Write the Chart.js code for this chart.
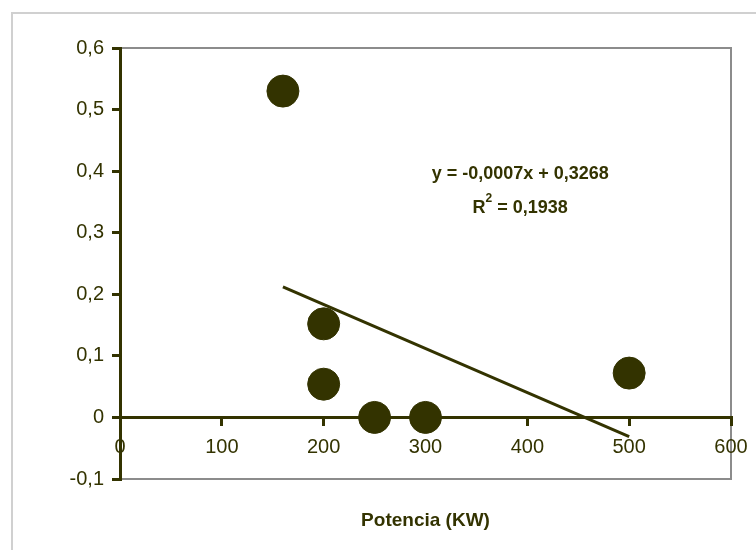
<!DOCTYPE html>
<html>
<head>
<meta charset="utf-8">
<script src="https://cdn.jsdelivr.net/npm/chart.js@4.4.0/dist/chart.umd.min.js"></script>
<style>
  html, body { margin: 0; padding: 0; background: #fff; }
  #wrap { width: 756px; height: 550px; position: relative; }
</style>
</head>
<body>
<div id="wrap"><canvas id="chart" width="756" height="550"></canvas></div>
<script>
// Data
const potencia = [160, 200, 200, 250, 300, 500];
const valores  = [0.53, 0.152, 0.054, 0, 0, 0.072];
const trendX = [160, 500];
const trendY = [0.212, -0.031];
const xTicks = [0, 100, 200, 300, 400, 500, 600];
const yTicks = [-0.1, 0, 0.1, 0.2, 0.3, 0.4, 0.5, 0.6];
const eqLine1 = 'y = -0,0007x + 0,3268';
const eqR2 = '0,1938';
const xTitle = 'Potencia (KW)';

const ink = '#333300';
const sans = "'Liberation Sans', Arial, sans-serif";

function fmt(v) {
  const r = Math.round(v * 10) / 10;
  return String(r).replace('.', ',');
}

// frames, equation, axis title
const decor = {
  id: 'decor',
  beforeDraw(chart) {
    const ctx = chart.ctx, a = chart.chartArea;
    ctx.save();
    ctx.strokeStyle = '#d0d0d0';
    ctx.lineWidth = 2;
    ctx.beginPath();
    ctx.moveTo(12, 550); ctx.lineTo(12, 13); ctx.lineTo(756, 13);
    ctx.stroke();
    ctx.strokeStyle = '#8c8c8c';
    ctx.lineWidth = 2;
    ctx.strokeRect(a.left, a.top, a.right - a.left, a.bottom - a.top);
    ctx.restore();
  },
  afterDraw(chart) {
    const ctx = chart.ctx, a = chart.chartArea;
    const xs = chart.scales.x, ys = chart.scales.y;
    ctx.save();
    ctx.fillStyle = ink;
    ctx.textBaseline = 'middle';
    ctx.textAlign = 'center';
    const cx = xs.getPixelForValue(393);
    ctx.font = 'bold 18px ' + sans;
    ctx.fillText(eqLine1, cx, ys.getPixelForValue(0.396));
    // R² line
    const y2 = ys.getPixelForValue(0.34);
    const rest = ' = ' + eqR2;
    const wR = ctx.measureText('R').width;
    const wRest = ctx.measureText(rest).width;
    ctx.font = 'bold 12px ' + sans;
    const wSup = ctx.measureText('2').width;
    let x0 = cx - (wR + wSup + wRest) / 2;
    ctx.textAlign = 'left';
    ctx.font = 'bold 18px ' + sans;
    ctx.fillText('R', x0, y2);
    ctx.font = 'bold 12px ' + sans;
    ctx.fillText('2', x0 + wR, y2 - 9);
    ctx.font = 'bold 18px ' + sans;
    ctx.fillText(rest, x0 + wR + wSup, y2);
    // x title
    ctx.textAlign = 'center';
    ctx.font = 'bold 19px ' + sans;
    ctx.fillText(xTitle, (a.left + a.right) / 2, 521);
    ctx.restore();
  }
};

new Chart(document.getElementById('chart'), {
  type: 'scatter',
  data: {
    datasets: [
      {
        label: 'Datos',
        data: potencia.map((x, i) => ({ x, y: valores[i] })),
        backgroundColor: ink,
        borderColor: ink,
        pointRadius: 16,
        pointHoverRadius: 16
      },
      {
        type: 'line',
        label: 'Tendencia',
        data: trendX.map((x, i) => ({ x, y: trendY[i] })),
        borderColor: ink,
        borderWidth: 3,
        pointRadius: 0,
        fill: false
      }
    ]
  },
  options: {
    responsive: false,
    animation: false,
    layout: { padding: { left: 0, right: 25, top: 48, bottom: 71 } },
    plugins: { legend: { display: false }, tooltip: { enabled: false } },
    scales: {
      x: {
        type: 'linear',
        position: { y: 0 },
        min: 0, max: 600,
        afterBuildTicks: s => { s.ticks = xTicks.map(v => ({ value: v })); },
        afterFit: s => { s.paddingLeft = 0; s.paddingRight = 0; },
        border: { color: ink, width: 3 },
        grid: { drawOnChartArea: false, tickLength: 7, color: ink, lineWidth: 3 },
        ticks: { color: ink, font: { family: sans, size: 20 }, padding: 11, maxRotation: 0 }
      },
      y: {
        min: -0.1, max: 0.6,
        afterBuildTicks: s => { s.ticks = yTicks.map(v => ({ value: v })); },
        afterFit: s => { s.width = 120; },
        border: { color: ink, width: 3 },
        grid: { drawOnChartArea: false, tickLength: 8, color: ink, lineWidth: 3 },
        ticks: { color: ink, font: { family: sans, size: 20 }, padding: 8, callback: v => fmt(v) }
      }
    }
  },
  plugins: [decor]
});
</script>
</body>
</html>
